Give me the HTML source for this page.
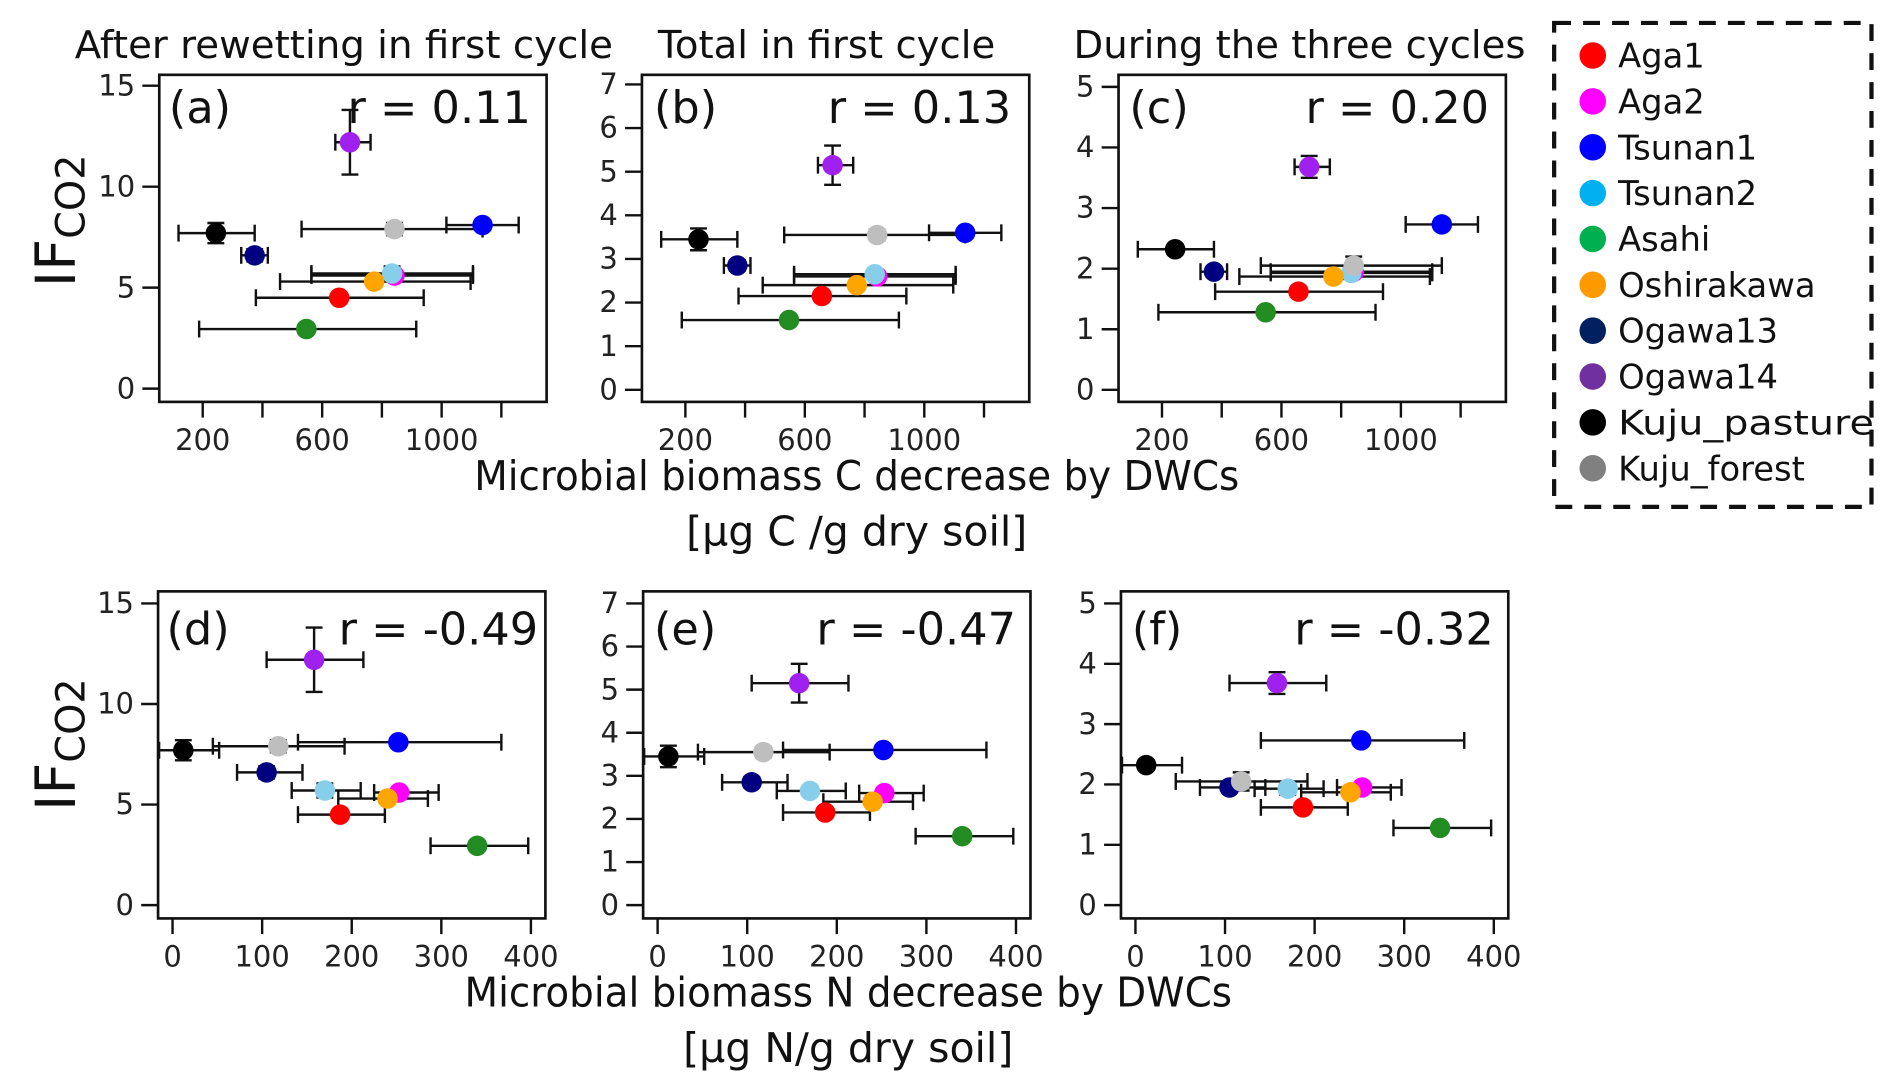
<!DOCTYPE html>
<html><head><meta charset="utf-8"><style>
html,body{margin:0;padding:0;background:#fff;}
svg{display:block;font-family:"DejaVu Sans","Liberation Sans",sans-serif;}
</style></head><body>
<svg id="s" width="1892" height="1091" viewBox="0 0 1568 904" preserveAspectRatio="none" xmlns="http://www.w3.org/2000/svg">
<g font-size="32" fill="#111" text-anchor="middle">
<text x="285" y="48" textLength="446" lengthAdjust="spacingAndGlyphs">After rewetting in first cycle</text>
<text x="685" y="48">Total in first cycle</text>
<text x="1077" y="48">During the three cycles</text>
</g>
<g font-size="34" fill="#111" text-anchor="middle">
<text x="710" y="406" textLength="634" lengthAdjust="spacingAndGlyphs">Microbial biomass C decrease by DWCs</text>
<text x="710" y="452">[µg C /g dry soil]</text>
<text x="703" y="834" textLength="636" lengthAdjust="spacingAndGlyphs">Microbial biomass N decrease by DWCs</text>
<text x="703" y="880">[µg N/g dry soil]</text>
</g>
<g font-size="46" fill="#111">
<text transform="translate(62,238) rotate(-90)">IF<tspan font-size="33" dy="8">CO2</tspan></text>
<text transform="translate(62,672) rotate(-90)">IF<tspan font-size="33" dy="8">CO2</tspan></text>
</g>
<g font-size="37" fill="#111">
<text x="140" y="102">(a)</text><text x="440" y="102" text-anchor="end">r = 0.11</text>
<text x="542" y="102">(b)</text><text x="838" y="102" text-anchor="end">r = 0.13</text>
<text x="936" y="102">(c)</text><text x="1234" y="102" text-anchor="end">r = 0.20</text>
<text x="138" y="534">(d)</text><text x="446" y="534" text-anchor="end">r = -0.49</text>
<text x="542" y="534">(e)</text><text x="842" y="534" text-anchor="end">r = -0.47</text>
<text x="938" y="534">(f)</text><text x="1238" y="534" text-anchor="end">r = -0.32</text>
</g>
<g id="ticks" font-size="24" fill="#222"></g>
<g id="pts"></g>
<rect x="1288" y="19" width="263" height="401" fill="none" stroke="#111" stroke-width="3.5" stroke-dasharray="14,10"/>
<g font-size="28" fill="#111">
<circle cx="1320" cy="46" r="11" fill="#ff0000"/><text x="1341" y="56">Aga1</text>
<circle cx="1320" cy="84" r="11" fill="#ff00ff"/><text x="1341" y="94">Aga2</text>
<circle cx="1320" cy="122" r="11" fill="#0000ff"/><text x="1341" y="132">Tsunan1</text>
<circle cx="1320" cy="160" r="11" fill="#00b0f0"/><text x="1341" y="170">Tsunan2</text>
<circle cx="1320" cy="198" r="11" fill="#00b050"/><text x="1341" y="208">Asahi</text>
<circle cx="1320" cy="236" r="11" fill="#ff9900"/><text x="1341" y="246">Oshirakawa</text>
<circle cx="1320" cy="274" r="11" fill="#002060"/><text x="1341" y="284">Ogawa13</text>
<circle cx="1320" cy="312" r="11" fill="#7030a0"/><text x="1341" y="322">Ogawa14</text>
<circle cx="1320" cy="350" r="11" fill="#000000"/><text x="1341" y="360" textLength="212" lengthAdjust="spacingAndGlyphs">Kuju_pasture</text>
<circle cx="1320" cy="388" r="11" fill="#808080"/><text x="1341" y="398">Kuju_forest</text>
</g>
</svg>
<script>
var NS="http://www.w3.org/2000/svg",P=document.getElementById('pts'),T=document.getElementById('ticks');
function el(p,n,a,t){var e=document.createElementNS(NS,n);for(var k in a)e.setAttribute(k,a[k]);if(t!==undefined)e.textContent=t;p.appendChild(e);return e;}
function ln(x1,y1,x2,y2,w){el(P,'line',{x1:x1,y1:y1,x2:x2,y2:y2,stroke:'#111','stroke-width':w||2});}
var D=[
['#ff0000',657,378,940,187,140,237,4.5,2.15,1.62,0.1,0.05,0.04],
['#ff00ff',842,564,1105,253,225,297,5.6,2.6,1.95,0.15,0.05,0.05],
['#0000ff',1137,1016,1258,252,140,367,8.1,3.6,2.73,0.2,0.08,0.08],
['#87ceeb',834,564,1105,170,133,210,5.7,2.65,1.93,0.35,0.1,0.1],
['#228b22',547,188,915,340,288,397,2.95,1.6,1.28,0.1,0.05,0.04],
['#ffa500',774,459,1097,240,185,285,5.3,2.4,1.87,0.15,0.07,0.05],
['#000080',374,329,418,105,72,145,6.6,2.85,1.95,0.3,0.12,0.08],
['#a020f0',693,644,762,158,105,213,12.2,5.15,3.68,1.6,0.45,0.18],
['#000000',244,119,374,12,-15,52,7.7,3.45,2.32,0.5,0.25,0.08],
['#bebebe',842,531,1137,118,45,192,7.9,3.55,2.05,0.3,0.12,0.15]];
var panels=[
{fx:132,fy:62,top:true,ymax:15,ystep:5,y0:322,yt:71,ix:7,ie:10},
{fx:532,fy:62,top:true,ymax:7,ystep:1,y0:323,yt:70,ix:8,ie:11},
{fx:927,fy:62,top:true,ymax:5,ystep:1,y0:323,yt:72,ix:9,ie:12},
{fx:131,fy:490,top:false,ymax:15,ystep:5,y0:750,yt:500,ix:7,ie:10},
{fx:533,fy:490,top:false,ymax:7,ystep:1,y0:750,yt:500,ix:8,ie:11},
{fx:929,fy:490,top:false,ymax:5,ystep:1,y0:750,yt:500,ix:9,ie:12}];
panels.forEach(function(p){
  var W=321,H=271,off=p.fx-(p.top?132:131);
  el(P,'rect',{x:p.fx,y:p.fy,width:W,height:H,fill:'none',stroke:'#111','stroke-width':2.2});
  var ys=(p.y0-p.yt)/p.ymax;
  function Y(v){return p.y0-v*ys;}
  var X;
  if(p.top){X=function(v){return 168+off+(v-200)*0.2475;};}
  else{X=function(v){return 143+off+v*0.7425;};}
  for(var v=0;v<=p.ymax;v+=p.ystep){ln(p.fx-14,Y(v),p.fx,Y(v),2);el(T,'text',{x:p.fx-20,y:Y(v)+8,'text-anchor':'end'},v);}
  var xt=p.top?[200,400,600,800,1000,1200]:[0,100,200,300,400];
  xt.forEach(function(v){var x=X(v);ln(x,p.fy+H,x,p.fy+H+13,2);
    if(!p.top||v%400==200)el(T,'text',{x:x,y:p.fy+H+40,'text-anchor':'middle'},v);});
  D.forEach(function(d){
    var xv=p.top?d[1]:d[4],lo=p.top?d[2]:d[5],hi=p.top?d[3]:d[6];
    var y=Y(d[p.ix]),x=X(xv),e=d[p.ie]*ys;
    ln(X(lo),y,X(hi),y);ln(X(lo),y-7,X(lo),y+7);ln(X(hi),y-7,X(hi),y+7);
    if(e>3){ln(x,y-e,x,y+e);ln(x-7,y-e,x+7,y-e);ln(x-7,y+e,x+7,y+e);}
  });
  D.forEach(function(d){
    var xv=p.top?d[1]:d[4];
    el(P,'circle',{cx:X(xv),cy:Y(d[p.ix]),r:8.5,fill:d[0]});
  });
});
</script>
</body></html>
